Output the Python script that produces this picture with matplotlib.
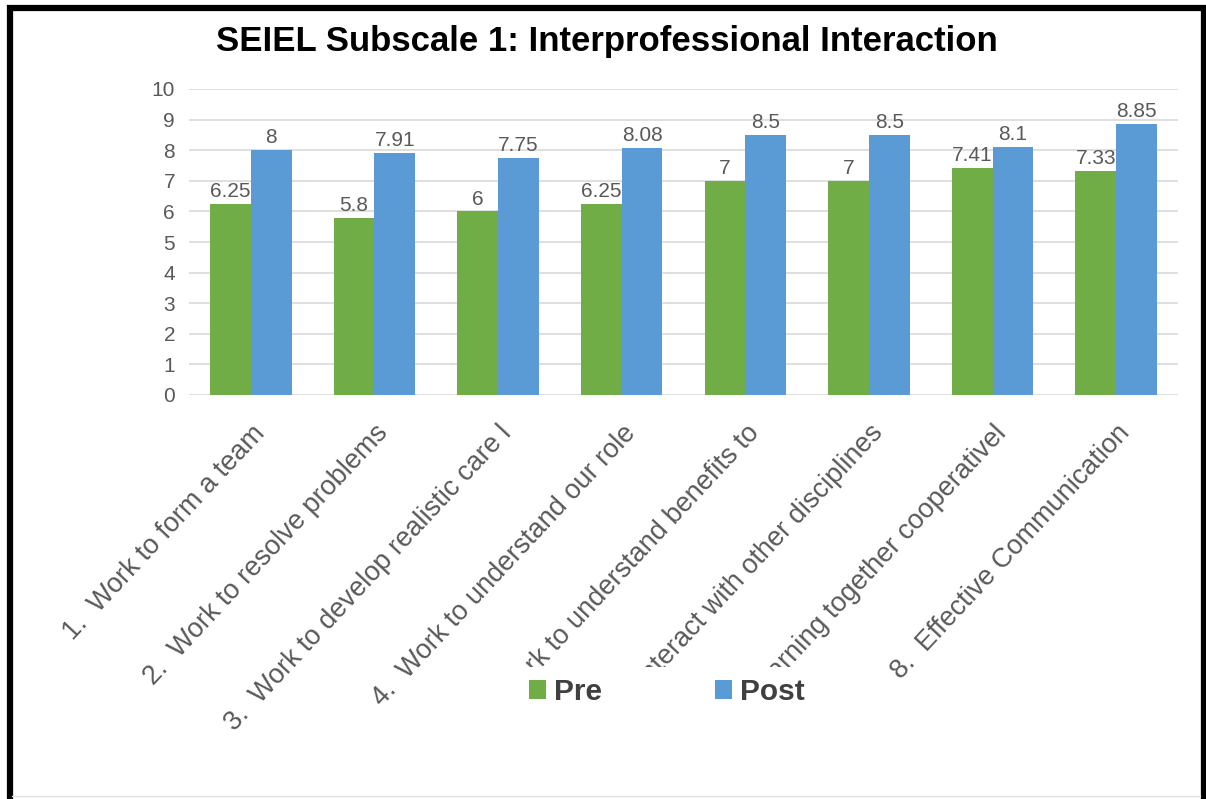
import numpy as np
import matplotlib
matplotlib.use("Agg")
import matplotlib.pyplot as plt
from matplotlib.patches import Rectangle
from matplotlib.transforms import Bbox, TransformedBbox

categories = [
    "1.  Work to form a team",
    "2.  Work to resolve problems",
    "3.  Work to develop realistic care l",
    "4.  Work to understand our role",
    "5.  Work to understand benefits to",
    "6.  Interact with other disciplines",
    "7.  Learning together cooperativel",
    "8.  Effective Communication",
]
pre = [6.25, 5.8, 6, 6.25, 7, 7, 7.41, 7.33]
post = [8, 7.91, 7.75, 8.08, 8.5, 8.5, 8.1, 8.85]

GREEN = "#70AD47"
BLUE = "#5B9BD5"
GRAY = "#595959"

plt.rcParams["font.family"] = ["Liberation Sans", "DejaVu Sans"]

W, H = 1206, 799
fig = plt.figure(figsize=(W / 100, H / 100), dpi=100)
ax = fig.add_axes([189 / W, 1 - 395 / H, (1178 - 189) / W, (395 - 89) / H])

x = np.arange(len(categories))
bw = 0.33
b1 = ax.bar(x - bw / 2, pre, bw, color=GREEN, label="Pre")
b2 = ax.bar(x + bw / 2, post, bw, color=BLUE, label="Post")
ax.bar_label(b1, fmt="%g", padding=2, color=GRAY, fontsize=15)
ax.bar_label(b2, fmt="%g", padding=2, color=GRAY, fontsize=15)

ax.set_xlim(-0.5, len(categories) - 0.5)
ax.set_ylim(0, 10)
ax.set_yticks(range(0, 11))
ax.yaxis.grid(True, color="#D9D9D9", linewidth=1.2)
ax.set_axisbelow(True)
for s in ax.spines.values():
    s.set_visible(False)
ax.tick_params(axis="both", length=0, colors=GRAY, labelsize=15)
ax.tick_params(axis="y", pad=10)
ax.tick_params(axis="x", pad=18)

ax.set_xticks(x)
ax.set_xticklabels(categories, rotation=47, ha="right", va="top",
                   rotation_mode="anchor", fontsize=19.5)
# labels 5-7 are cut off where the legend sits
clip = TransformedBbox(Bbox([[0, (H - 667) / H], [1, 1]]), fig.transFigure)
for i, lab in enumerate(ax.get_xticklabels()):
    if i in (4, 5, 6):
        lab.set_clip_box(clip)
        lab.set_clip_on(True)

fig.text(0.503, 1 - 42 / H, "SEIEL Subscale 1: Interprofessional Interaction",
         ha="center", va="center", fontsize=25, fontweight="bold")

leg = fig.legend(loc="center", bbox_to_anchor=(667 / W, 1 - 692 / H), ncol=2,
                 frameon=False, handlelength=0.57, handleheight=0.6,
                 handletextpad=0.25, columnspacing=3.8,
                 prop={"size": 21.5, "weight": "bold"})
for t in leg.get_texts():
    t.set_color("#404040")

# black frame around the chart (bottom edge is cut off in the original)
fig.add_artist(Rectangle((9.5 / W, -0.05), (1203.5 - 9.5) / W, 1.05 - 8 / H,
                         transform=fig.transFigure, fill=False,
                         edgecolor="black", linewidth=4.5))
fig.add_artist(plt.Line2D([12 / W, 1200 / W], [3 / H, 3 / H],
                          transform=fig.transFigure, color="#E0E0E0", lw=1))

fig.savefig("out.png", dpi=100, facecolor="white")
